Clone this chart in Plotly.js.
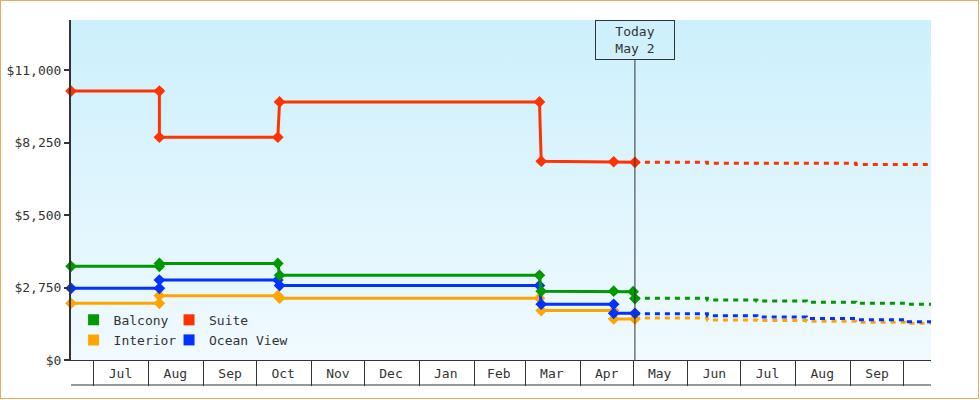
<!DOCTYPE html>
<html>
<head>
<meta charset="utf-8">
<script src="https://cdn.plot.ly/plotly-3.0.1.min.js"></script>
<style>
  body { margin: 0; background: #fff; }
  #frame { position: absolute; left: 0; top: 0; width: 977px; height: 397px; border: 1px solid #e8a860; background: #fff; }
  #graph { position: absolute; left: -1px; top: -1px; width: 980px; height: 400px;
    background: linear-gradient(#ccf0fc, #f1faff) no-repeat;
    background-position: 71px 20px; background-size: 860px 340px; }
</style>
</head>
<body>
<div id="frame"><div id="graph"></div></div>
<script>
// month boxes on the time axis
var monthStarts = ['2023-07-01','2023-08-01','2023-09-01','2023-10-01','2023-11-01','2023-12-01',
  '2024-01-01','2024-02-01','2024-03-01','2024-04-01','2024-05-01','2024-06-01','2024-07-01',
  '2024-08-01','2024-09-01','2024-10-01']
var monthLabels = ['Jul','Aug','Sep','Oct','Nov','Dec','Jan','Feb','Mar','Apr','May','Jun','Jul','Aug','Sep']

var today = '2024-05-02'
var yTicks = [0, 2750, 5500, 8250, 11000]

// price history (solid)
var suiteDates = ['2023-06-18','2023-08-07','2023-08-07','2023-10-13','2023-10-14','2024-03-09','2024-03-10','2024-04-20','2024-05-02']
var suitePrices = [10200, 10200, 8450, 8450, 9790, 9790, 7540, 7520, 7500]

var balconyDates = ['2023-06-18','2023-08-07','2023-08-07','2023-10-13','2023-10-14','2024-03-09','2024-03-10','2024-04-20','2024-05-01','2024-05-02']
var balconyPrices = [3555, 3555, 3665, 3665, 3215, 3215, 2610, 2610, 2590, 2330]

var oceanDates = ['2023-06-18','2023-08-07','2023-08-07','2023-10-13','2023-10-14','2024-03-09','2024-03-10','2024-04-20','2024-04-20','2024-05-02']
var oceanPrices = [2720, 2720, 3035, 3035, 2825, 2825, 2115, 2115, 1770, 1770]

var interiorDates = ['2023-06-18','2023-08-07','2023-08-07','2023-10-13','2023-10-14','2024-03-09','2024-03-10','2024-04-20','2024-04-20','2024-05-02']
var interiorPrices = [2150, 2150, 2440, 2440, 2345, 2345, 1875, 1875, 1555, 1555]

// forecast (dotted)
var fcDates = ['2024-05-02','2024-06-12','2024-07-10','2024-08-07','2024-09-04','2024-10-02','2024-10-16 12:00']
var suiteFc = [7500, 7460, 7460, 7460, 7420, 7420, 7420]
var balconyFc = [2340, 2275, 2238, 2190, 2150, 2113, 2113]
var oceanFc = [1756, 1680, 1635, 1570, 1530, 1455, 1420]
var interiorFc = [1595, 1520, 1498, 1468, 1430, 1392, 1365]

var cRed = '#ff3300', cGreen = '#009900', cBlue = '#0033ff', cOrange = '#ffa500'
var fnt = 'DejaVu Sans Mono, monospace'

function solid(x, y, c) {
  return { x: x, y: y, mode: 'lines+markers', showlegend: false, cliponaxis: false,
    line: { color: c, width: 3 }, marker: { symbol: 'diamond', size: 9, color: c } }
}
function dotted(x, y, c) {
  return { x: x, y: y, mode: 'lines', showlegend: false, cliponaxis: false,
    line: { color: c, width: 3, dash: '5px,5px', shape: 'hv' } }
}
function key(name, c, lg) {
  return { x: [null], y: [null], name: name, mode: 'markers', legend: lg,
    marker: { symbol: 'square', size: 11, color: c } }
}
// one legend box per entry so the 2x2 grid sits where the original has it
function legendBox(x, y) {
  return { orientation: 'v', x: x, xanchor: 'left', y: y, yanchor: 'middle',
    bgcolor: 'rgba(0,0,0,0)', font: { family: fnt, size: 13, color: '#333' } }
}

var data = [
  dotted(fcDates, interiorFc, cOrange),
  dotted(fcDates, oceanFc, cBlue),
  dotted(fcDates, balconyFc, cGreen),
  dotted(fcDates, suiteFc, cRed),
  solid(interiorDates, interiorPrices, cOrange),
  solid(oceanDates, oceanPrices, cBlue),
  solid(balconyDates, balconyPrices, cGreen),
  solid(suiteDates, suitePrices, cRed),
  key('Balcony', cGreen, 'legend'),
  key('Suite', cRed, 'legend2'),
  key('Interior', cOrange, 'legend3'),
  key('Ocean View', cBlue, 'legend4')
]

// label each month in the middle of its box
var monthMids = []
for (let i=0; i<monthLabels.length; i++){
  var a = new Date(monthStarts[i]).getTime()
  var b = new Date(monthStarts[i+1]).getTime()
  monthMids[i] = new Date((a+b)/2).toISOString().slice(0,10)
}

var layout = {
  width: 980, height: 400,
  margin: { l: 71, r: 49, t: 20, b: 40 },
  paper_bgcolor: 'rgba(0,0,0,0)',
  plot_bgcolor: 'rgba(0,0,0,0)',
  font: { family: fnt, size: 13, color: '#333' },
  xaxis: {
    type: 'date',
    range: ['2023-06-18', '2024-10-16 12:00'],
    showgrid: false, zeroline: false,
    showline: true, linecolor: '#333', linewidth: 1,
    tickmode: 'array', tickvals: monthMids, ticktext: monthLabels,
    ticks: '', ticklabelstandoff: 1,
    minor: { tickmode: 'array', tickvals: monthStarts, ticks: 'outside', ticklen: 25, tickwidth: 1, tickcolor: '#333' },
    fixedrange: true
  },
  yaxis: {
    range: [0, 12897],
    tickmode: 'array', tickvals: yTicks, tickformat: '$,',
    showgrid: false, zeroline: false,
    showline: true, linecolor: '#333', linewidth: 2,
    ticks: 'outside', ticklen: 5, tickwidth: 2, tickcolor: '#333',
    fixedrange: true
  },
  legend: legendBox(0.003, 0.118),
  legend2: legendBox(0.114, 0.118),
  legend3: legendBox(0.003, 0.059),
  legend4: legendBox(0.114, 0.059),
  shapes: [
    { type: 'line', xref: 'x', yref: 'paper', x0: today, x1: today, y0: 0, y1: 0.882,
      line: { color: '#333', width: 1 } },
    { type: 'line', xref: 'paper', yref: 'paper', x0: 0, x1: 1, y0: -0.0735, y1: -0.0735,
      line: { color: '#333', width: 1 } }
  ],
  annotations: [
    { x: today, xref: 'x', y: 1, yref: 'paper', yanchor: 'top', showarrow: false,
      text: 'Today<br>May 2', width: 78, height: 38, borderpad: 0,
      bordercolor: '#333', borderwidth: 1, font: { family: fnt, size: 13, color: '#333' } }
  ]
}

Plotly.newPlot('graph', data, layout, { displayModeBar: false, staticPlot: true })
</script>
</body>
</html>
